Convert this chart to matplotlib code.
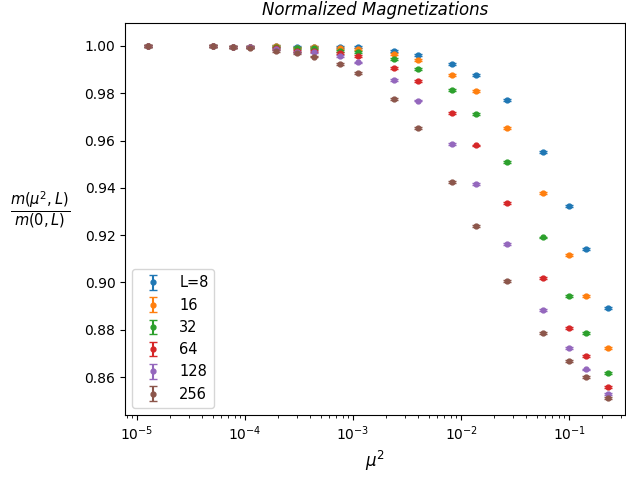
import matplotlib
matplotlib.use('Agg')
import matplotlib.pyplot as plt
import numpy as np

mu2 = [1.26e-5, 5.0e-5, 7.7e-5, 1.1e-4, 1.92e-4, 3.0e-4, 4.3e-4, 7.5e-4, 1.1e-3,
       2.4e-3, 4.0e-3, 8.3e-3, 1.38e-2, 2.67e-2, 5.73e-2, 0.1, 0.143, 0.228]

labels = ['L=8', '16', '32', '64', '128', '256']

m8 = [1.0, 1.0, 0.9997, 0.9997, 0.9999, 0.9995, 0.9996, 0.9997, 0.9995,
      0.998, 0.9962, 0.9925, 0.9877, 0.977, 0.9553, 0.9322, 0.9143, 0.8893]
m16 = [1.0, 1.0, 0.9997, 0.9997, 0.9998, 0.9993, 0.9994, 0.999, 0.9987,
       0.9966, 0.994, 0.9877, 0.981, 0.9654, 0.9378, 0.9116, 0.8943, 0.8721]
m32 = [1.0, 1.0, 0.9996, 0.9996, 0.9997, 0.999, 0.999, 0.998, 0.9976,
       0.9944, 0.9903, 0.9814, 0.9711, 0.9508, 0.919, 0.8943, 0.8787, 0.8616]
m64 = [1.0, 0.9999, 0.9995, 0.9995, 0.999, 0.998, 0.998, 0.997, 0.9958,
       0.9908, 0.985, 0.9717, 0.9579, 0.9337, 0.9017, 0.8806, 0.8688, 0.8557]
m128 = [1.0, 0.9999, 0.9995, 0.9994, 0.9985, 0.9975, 0.9975, 0.9958, 0.993,
        0.9857, 0.9769, 0.9587, 0.9418, 0.9161, 0.8885, 0.8721, 0.8632, 0.8528]
m256 = [1.0, 0.9998, 0.9994, 0.9993, 0.998, 0.997, 0.9955, 0.9925, 0.9887,
        0.9775, 0.9653, 0.9424, 0.924, 0.9005, 0.8787, 0.8668, 0.86, 0.8511]

err = 0.0004

fig = plt.figure(figsize=(6.26, 4.78), dpi=100)
ax = fig.add_axes([0.2, 0.132, 0.798, 0.82])

for lab, m in zip(labels, [m8, m16, m32, m64, m128, m256]):
    ax.errorbar(mu2, m, yerr=err, fmt='o', ms=3.5, capsize=3, label=lab)

ax.set_xscale('log')
ax.set_xlim(10**-5.11, 10**-0.485)
ax.set_ylim(0.844, 1.0097)
ax.set_title('Normalized Magnetizations', fontstyle='italic')
ax.set_xlabel(r'$\mu^2$', fontsize=12)
ax.set_ylabel(r'$\frac{m(\mu^2,L)}{m(0,L)}$', rotation=0, fontsize=15)
ax.yaxis.set_label_coords(-0.17, 0.47)
ax.legend(loc='lower left', fontsize=10.5)

fig.savefig('out.png', dpi=100)
